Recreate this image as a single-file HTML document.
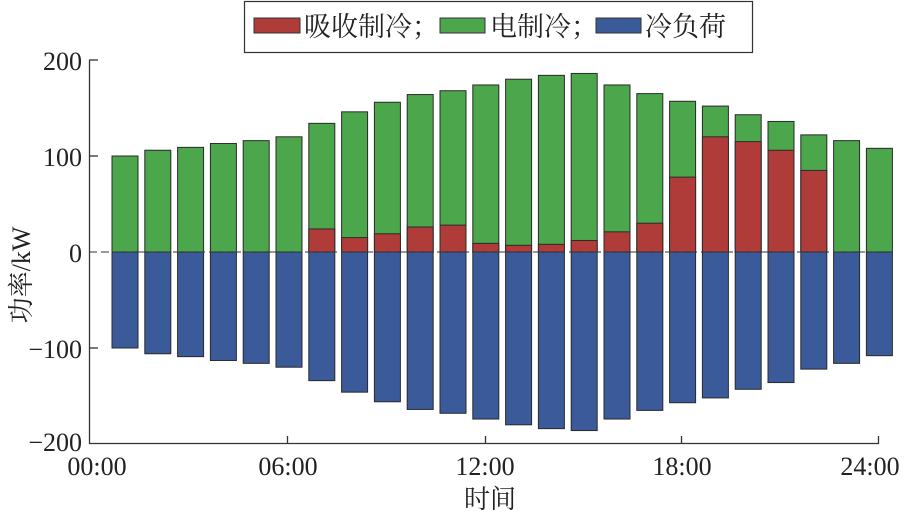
<!DOCTYPE html><html><head><meta charset="utf-8"><style>body{margin:0;background:#fff}svg{display:block}text{font-family:"Liberation Serif","Noto Serif CJK SC",serif;fill:#222}</style></head><body>
<svg width="904" height="515" viewBox="0 0 904 515" xmlns="http://www.w3.org/2000/svg">
<rect x="244.5" y="1.5" width="508" height="51" fill="#fff" stroke="#333" stroke-width="1.2"/>
<rect x="254" y="18" width="46" height="15" fill="#b03c3a" stroke="#333"/>
<text x="304" y="36" font-size="27">吸收制冷；</text>
<rect x="440" y="18" width="45" height="15" fill="#4ca64c" stroke="#333"/>
<text x="490" y="36" font-size="27">电制冷；</text>
<rect x="596" y="18" width="45" height="15" fill="#3a5a9a" stroke="#333"/>
<text x="645" y="36" font-size="27">冷负荷</text>
<g id="bars"></g>
<line x1="89.5" y1="60" x2="89.5" y2="444" stroke="#333" stroke-width="1.3"/>
<line x1="89" y1="443.5" x2="879" y2="443.5" stroke="#333" stroke-width="1.3"/>
<line x1="89" y1="252" x2="879" y2="252" stroke="#333" stroke-width="1" stroke-dasharray="8,4"/>
<g stroke="#333" stroke-width="1.3">
<line x1="89" y1="60" x2="98" y2="60"/><line x1="89" y1="156" x2="98" y2="156"/><line x1="89" y1="348" x2="98" y2="348"/>
<line x1="287.5" y1="444" x2="287.5" y2="436"/><line x1="485.5" y1="444" x2="485.5" y2="436"/><line x1="681.5" y1="444" x2="681.5" y2="436"/><line x1="878.5" y1="444" x2="878.5" y2="436"/>
</g>
<g font-size="26" text-anchor="end">
<text x="82" y="70">200</text><text x="82" y="166">100</text><text x="82" y="262">0</text><text x="82" y="358">−100</text><text x="82" y="451">−200</text>
</g>
<g font-size="26" text-anchor="middle">
<text x="97" y="475">00:00</text><text x="288" y="475">06:00</text><text x="485" y="475">12:00</text><text x="682" y="475">18:00</text><text x="870" y="475">24:00</text>
</g>
<text x="490" y="508" font-size="26" text-anchor="middle">时间</text>
<text transform="translate(30,275) rotate(-90)" font-size="26" text-anchor="middle">功率/kW</text>
</svg>
<script>
var t=[100,106,109,113,116,120,134,146,156,164,168,174,180,184,186,174,165,157,152,143,136,122,116,108];
var r=[0,0,0,0,0,0,24,15,19,26,28,9,7,8,12,21,30,78,120,115,106,85,0,0];
var s='',k=0.96,z=252;
for(var i=0;i<24;i++){var x=112+i*32.8;
s+='<rect x="'+x+'" y="'+(z-t[i]*k)+'" width="26" height="'+(t[i]*k)+'" fill="#4ca64c" stroke="#2a2a2a" stroke-width="1"/>';
if(r[i])s+='<rect x="'+x+'" y="'+(z-r[i]*k)+'" width="26" height="'+(r[i]*k)+'" fill="#b03c3a" stroke="#2a2a2a" stroke-width="1"/>';
s+='<rect x="'+x+'" y="'+z+'" width="26" height="'+(t[i]*k)+'" fill="#3a5a9a" stroke="#2a2a2a" stroke-width="1"/>';}
document.getElementById('bars').innerHTML=s;
</script>
</body></html>
